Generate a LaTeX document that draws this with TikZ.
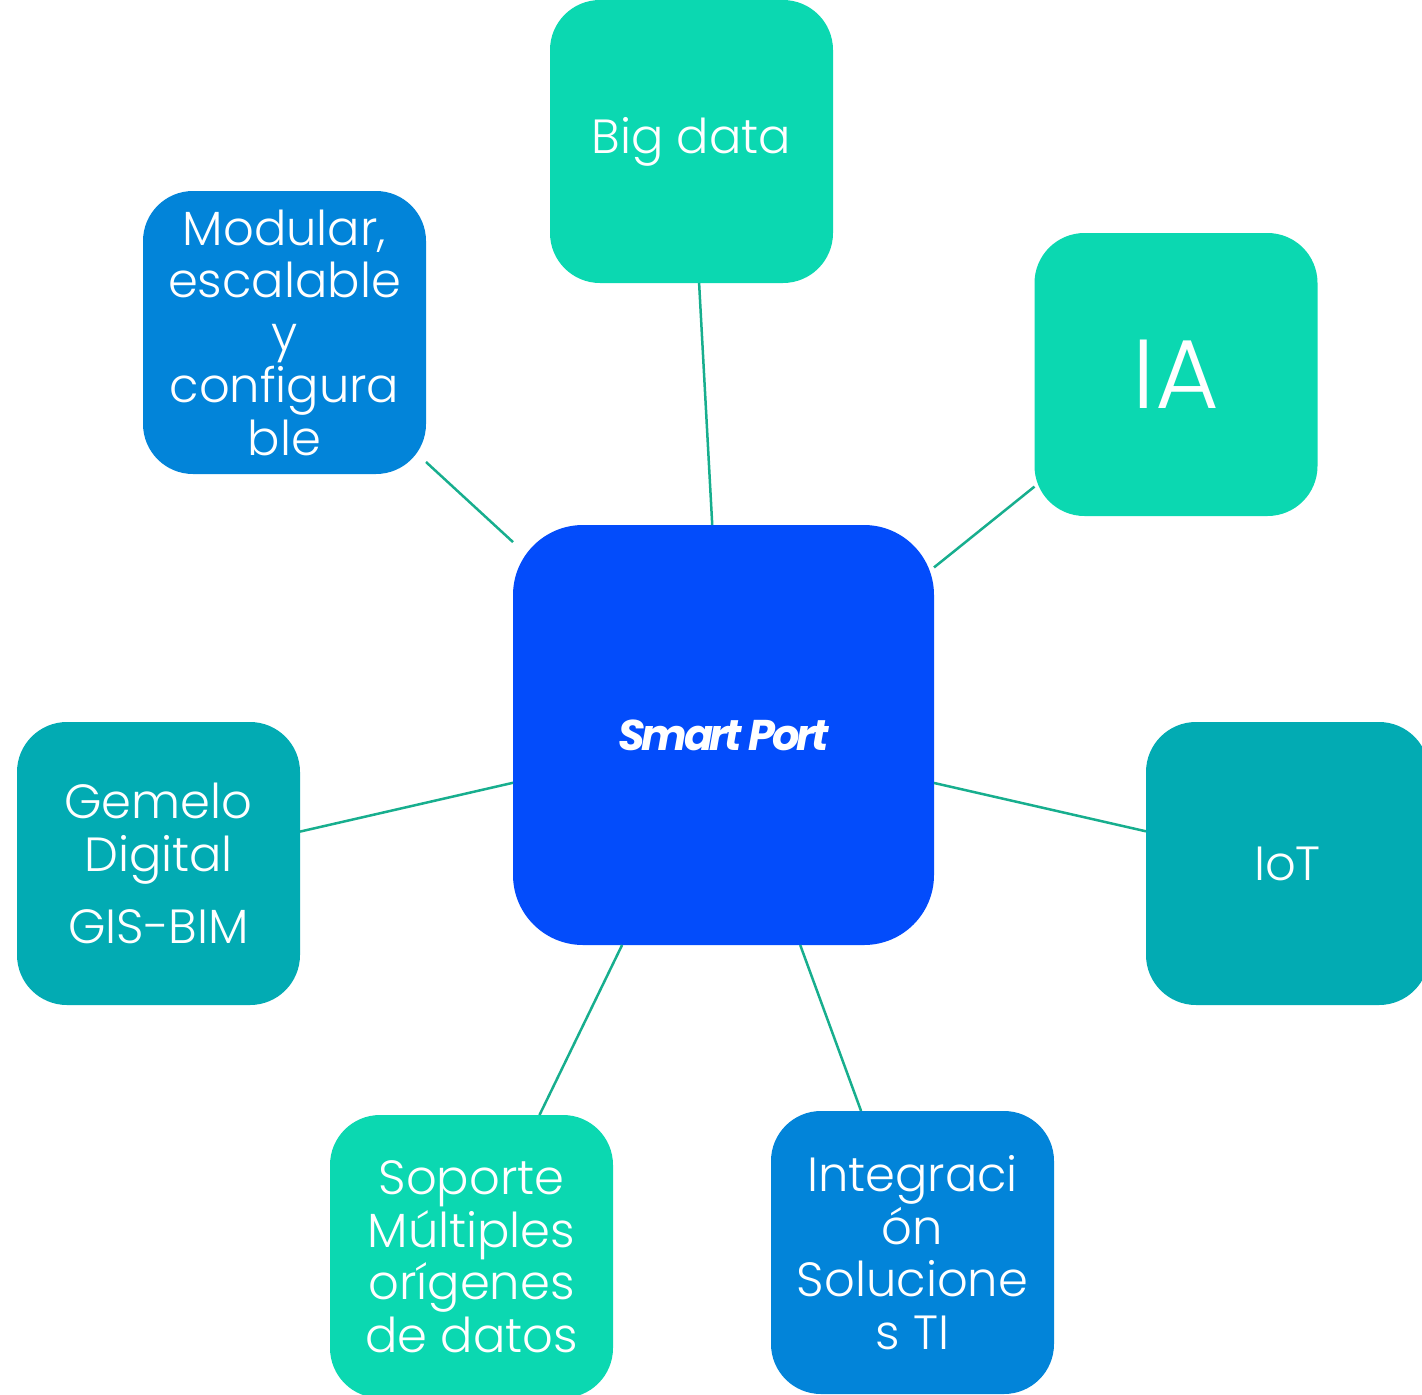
\documentclass[tikz,border=0pt]{standalone}
\usepackage{fontspec}
\usepackage{xcolor}
\setmainfont{Poppins}[UprightFont=* Light]
\newfontfamily\portfont{Poppins}[UprightFont=* Bold Italic, LetterSpace=-8]
\definecolor{sgreen}{HTML}{0BD8B1}
\definecolor{steal}{HTML}{02ABB3}
\definecolor{sblue}{HTML}{0284D9}
\definecolor{sstrong}{HTML}{034CFB}
\definecolor{sline}{HTML}{17AE8E}

\begin{document}
\begin{tikzpicture}[x=1pt, y=-1pt,
		box/.style={rounded corners=50pt, minimum width=283pt, minimum height=283pt, inner sep=0pt, outer sep=0pt, text=white, align=center, font=\fontsize{48}{52.5}\selectfont},
		link/.style={color=sline, line width=2.5pt}]
		\useasboundingbox (0,0) rectangle (1422,1395);
		\clip (0,0) rectangle (1422,1395);
		\node[box, fill=sstrong, minimum width=421pt, minimum height=420pt, rounded corners=70pt, font=\fontsize{43}{48}\selectfont\portfont] (smart) at (723.5,735) {Smart Port};
		\node[box, fill=sgreen] (bigdata) at (691.5,141.5) {Big data};
		\node[box, fill=sgreen, font=\fontsize{98}{98}\selectfont] (ia) at (1176,374.5) {IA};
		\node[box, fill=sblue] (modular) at (284.5,332.5) {Modular,\\escalable\\y\\configura\\ble};
		\node[box, fill=steal] (gemelo) at (158.5,863.5) {Gemelo\\Digital\\[20pt]GIS-BIM};
		\node[box, fill=steal] (iot) at (1287.5,863.5) {IoT};
		\node[box, fill=sgreen] (soporte) at (471.5,1256.5) {Soporte\\Múltiples\\orígenes\\de datos};
		\node[box, fill=sblue] (integ) at (912.5,1252.5) {Integraci\\ón\\Solucione\\s TI};
		% lines from the hub
		\draw[link] (smart) -- (bigdata);
		\draw[link] (smart) -- (ia);
		\draw[link] (smart) -- (modular);
		\draw[link] (smart) -- (gemelo);
		\draw[link] (smart) -- (iot);
		\draw[link] (smart) -- (soporte);
		\draw[link] (smart) -- (integ);
	\end{tikzpicture}
\end{document}
